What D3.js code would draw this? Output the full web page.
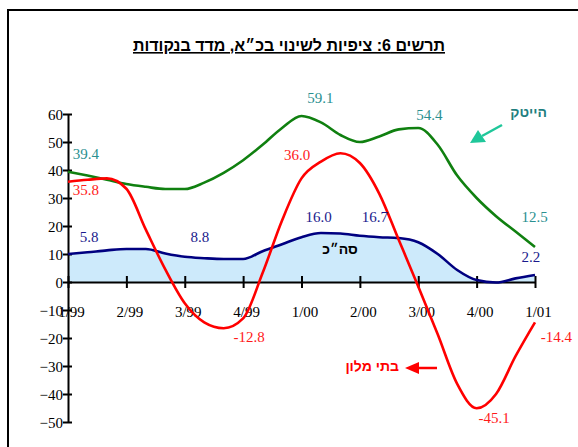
<!DOCTYPE html>
<html>
<head>
<meta charset="utf-8">
<script src="https://cdn.jsdelivr.net/npm/d3@7"></script>
<style>
body { margin: 0; background: #fff; }
svg { display: block; }
</style>
</head>
<body>
<svg width="578" height="447"></svg>
<script>
// months from 1/99 (0) to 1/01 (24)
var months = d3.range(0, 25);
var tickMonths = [0, 3, 6, 9, 12, 15, 18, 21, 24];
var tickLabels = ["1/99", "2/99", "3/99", "4/99", "1/00", "2/00", "3/00", "4/00", "1/01"];
var yTicks = [60, 50, 40, 30, 20, 10, 0, -10, -20, -30, -40, -50];

var hitech = [39.4, 38, 36.5, 35, 34, 33.2, 33.2, 35.5, 39, 43.5, 49, 55, 59.3, 57, 52.5, 50, 52, 54.5, 55, 49, 38, 30, 23.5, 18, 12.5];
var hotels = [35.8, 36.5, 37, 33.3, 18.7, 4.5, -7.6, -14.4, -16.5, -13, 3.2, 22, 37, 43, 46, 42.5, 31.5, 15, -1.6, -18.7, -36.4, -45.1, -40, -26.5, -14.4];
var total = [10, 10.6, 11.3, 11.8, 11.8, 10.2, 9, 8.5, 8.2, 8.2, 11, 13.5, 16, 17.5, 17.3, 16.5, 16, 15.7, 14.2, 10, 4.3, 0.7, -0.2, 1.3, 2.5];

// value labels: month, text, series, label height (in chart units)
var labelMonths = [0.25, 12.3, 17.9, 23.3, 0.25, 11.1, 8.5, 24.3, 21.1, 0.6, 6.3, 12.2, 15.1, 23.3];
var labelTexts = ["39.4", "59.1", "54.4", "12.5", "35.8", "36.0", "-12.8", "-14.4", "-45.1", "5.8", "8.8", "16.0", "16.7", "2.2"];
var labelSeries = ["hitech", "hitech", "hitech", "hitech", "hotels", "hotels", "hotels", "hotels", "hotels", "total", "total", "total", "total", "total"];
var labelLevels = [44, 64, 58, 21.4, 31, 43.5, -21.5, -21.5, -50.5, 14.2, 14.2, 21.5, 21.5, 7.1];

var colors = { hitech: "#108010", hotels: "#ff0000", total: "#000080" };
var labelColors = { hitech: "#2a9090", hotels: "#ff1a1a", total: "#1a1a8c" };
var serif = "'Liberation Serif', 'Times New Roman', serif";
var sans = "'Liberation Sans', Arial, sans-serif";

var svg = d3.select("svg");

var x = d3.scaleLinear().domain([0, 24]).range([68, 535]);
var y = d3.scaleLinear().domain([-50, 60]).range([422, 114]);

// frame
svg.append("rect")
	.attr("x", 8).attr("y", 10)
	.attr("width", 620).attr("height", 500)
	.attr("fill", "none").attr("stroke", "#000").attr("stroke-width", 2);

// title
svg.append("text")
	.attr("x", 289).attr("y", 51)
	.attr("text-anchor", "middle")
	.attr("direction", "rtl")
	.style("font-family", sans)
	.style("font-weight", "bold")
	.style("font-size", "16px")
	.style("text-decoration", "underline")
	.text("תרשים 6:  ציפיות לשינוי בכ״א, מדד בנקודות");

// area under total
var area = d3.area()
	.x(function(d, i) { return x(months[i]); })
	.y0(y(0))
	.y1(function(d) { return y(d); });

svg.append("path")
	.datum(total)
	.attr("d", area)
	.attr("fill", "#cdeafb");

// axes
var yAxis = d3.axisLeft(y).tickValues(yTicks).tickSize(5).tickSizeOuter(0).tickPadding(0);
var gy = svg.append("g").attr("transform", "translate(" + x(0) + ",0)").call(yAxis);
gy.attr("font-family", null).attr("font-size", null);
gy.select(".domain").attr("stroke-width", 2);
gy.selectAll(".tick line").attr("x1", 4).attr("x2", -5).attr("stroke-width", 2);
gy.selectAll(".tick text")
	.style("font-family", serif).style("font-size", "15px")
	.attr("fill", "#000").attr("dy", "0.34em");

var xAxis = d3.axisBottom(x).tickValues(tickMonths)
	.tickFormat(function(d, i) { return tickLabels[i]; })
	.tickSize(6).tickSizeOuter(0);
var gx = svg.append("g").attr("transform", "translate(0," + y(0) + ")").call(xAxis);
gx.attr("font-family", null).attr("font-size", null);
gx.select(".domain").attr("stroke-width", 2);
gx.selectAll(".tick line").attr("y1", -6).attr("y2", 6).attr("stroke-width", 2);
gx.selectAll(".tick text")
	.style("font-family", serif).style("font-size", "15px")
	.attr("fill", "#000").attr("y", 35).attr("dy", 0).attr("x", 3);
gy.raise();

// lines
var line = d3.line()
	.x(function(d, i) { return x(months[i]); })
	.y(function(d) { return y(d); })
	.curve(d3.curveMonotoneX);

[["total", total], ["hitech", hitech], ["hotels", hotels]].forEach(function(s) {
	svg.append("path")
		.datum(s[1])
		.attr("d", line)
		.attr("fill", "none")
		.attr("stroke", colors[s[0]])
		.attr("stroke-width", 2.6)
		.attr("stroke-linejoin", "round");
});

// value labels
svg.selectAll(".val")
	.data(labelTexts)
	.enter().append("text")
	.attr("class", "val")
	.attr("x", function(d, i) { return x(labelMonths[i]); })
	.attr("y", function(d, i) { return y(labelLevels[i]); })
	.attr("fill", function(d, i) { return labelColors[labelSeries[i]]; })
	.style("font-family", serif)
	.style("font-size", "15px")
	.text(function(d) { return d; });

// series names
svg.append("text")
	.attr("x", 340).attr("y", 254)
	.attr("text-anchor", "middle")
	.attr("direction", "rtl")
	.style("font-family", sans).style("font-weight", "bold").style("font-size", "14px")
	.attr("fill", "#000")
	.text("סה״כ");

svg.append("text")
	.attr("x", 547).attr("y", 117)
	.attr("text-anchor", "end")
	.style("font-family", sans).style("font-weight", "bold").style("font-size", "14px")
	.attr("fill", "#1f7f7f")
	.text("הייטק");

svg.append("text")
	.attr("x", 399).attr("y", 371)
	.attr("text-anchor", "end")
	.style("font-family", sans).style("font-weight", "bold").style("font-size", "14px")
	.attr("fill", "#ff0000")
	.text("בתי מלון");

// arrows
svg.append("line")
	.attr("x1", 502).attr("y1", 125).attr("x2", 482).attr("y2", 136)
	.attr("stroke", "#1fc79a").attr("stroke-width", 2.5);
svg.append("polygon")
	.attr("points", "470,143 478,130 486,142")
	.attr("fill", "#1fc79a");

svg.append("line")
	.attr("x1", 437).attr("y1", 368).attr("x2", 415).attr("y2", 368)
	.attr("stroke", "#ff0000").attr("stroke-width", 2.5);
svg.append("polygon")
	.attr("points", "405,368 419,362 419,374")
	.attr("fill", "#ff0000");
</script>
</body>
</html>
